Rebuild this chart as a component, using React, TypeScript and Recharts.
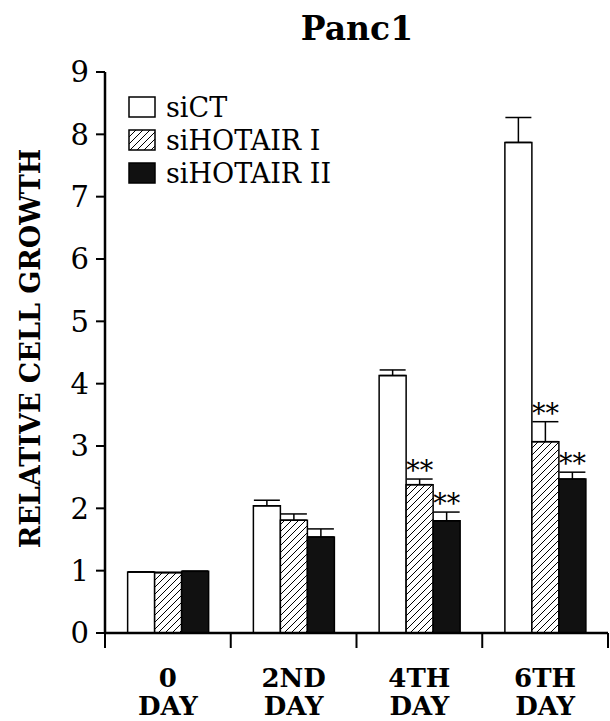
import React from 'react';
import { BarChart, Bar, XAxis, YAxis, ErrorBar, LabelList } from 'recharts';

const titleText = 'Panc1';
const yLabelText = 'RELATIVE CELL GROWTH';
const catLine1 = ['0', '2ND', '4TH', '6TH'];
const catLine2 = ['DAY', 'DAY', 'DAY', 'DAY'];
const siCT = [0.98, 2.04, 4.13, 7.87];
const siCTErr = [0, 0.09, 0.09, 0.4];
const siH1 = [0.97, 1.81, 2.38, 3.07];
const siH1Err = [0, 0.1, 0.09, 0.32];
const siH2 = [0.99, 1.54, 1.8, 2.47];
const siH2Err = [0, 0.13, 0.14, 0.11];
const siH1Stars = ['', '', '**', '**'];
const siH2Stars = ['', '', '**', '**'];
const yTicks = [0, 1, 2, 3, 4, 5, 6, 7, 8, 9];
const boundaryTicks = [0, 1, 2, 3, 4];
const seriesNames = ['siCT', 'siHOTAIR I', 'siHOTAIR II'];
const seriesFills = ['#ffffff', 'url(#hatch)', '#111111'];
const legendFills = ['#ffffff', 'url(#hatchL)', '#111111'];

const data = catLine1.map((c, i) => ({
  cat: c + ' ' + catLine2[i],
  idx: i,
  siCT: siCT[i],
  siCTE: [0, siCTErr[i]],
  siH1: siH1[i],
  siH1E: [0, siH1Err[i]],
  siH2: siH2[i],
  siH2E: [0, siH2Err[i]],
}));

const SERIF = 'DejaVu Serif';

const makeStars = (stars: string[], errs: number[]) => (props: any) => {
  const vb = props.viewBox || {};
  const x = props.x ?? vb.x;
  const y = props.y ?? vb.y;
  const width = props.width ?? vb.width;
  const height = props.height ?? vb.height;
  const value = Number(props.value);
  const index = props.index;
  if (index == null || !stars[index]) return null;
  const ppu = height / value;
  const top = y - errs[index] * ppu;
  return (
    <text
      x={x + width / 2}
      y={top + 1}
      textAnchor="middle"
      fontFamily={SERIF}
      fontSize={27}
      fill="#000"
    >
      {stars[index]}
    </text>
  );
};

const CatTick = (props: any) => {
  const { x, y, index } = props;
  return (
    <text
      x={x}
      textAnchor="middle"
      fontFamily={SERIF}
      fontWeight="bold"
      fontSize={26}
      fill="#000"
    >
      <tspan x={x} y={y + 53}>{catLine1[index]}</tspan>
      <tspan x={x} y={y + 81}>{catLine2[index]}</tspan>
    </text>
  );
};

const EmptyTick = () => <g />;

const YLabel = (props: any) => {
  const vb = props.viewBox || {};
  const cx = vb.x + 30;
  const cy = vb.y + vb.height / 2 - 4;
  return (
    <text
      x={cx}
      y={cy}
      transform={`rotate(-90 ${cx} ${cy})`}
      textAnchor="middle"
      dominantBaseline="central"
      fontFamily={SERIF}
      fontWeight="bold"
      fontSize={27}
      fill="#000"
    >
      {yLabelText}
    </text>
  );
};

export default function App() {
  return (
    <div style={{ position: 'absolute', left: 0, top: 0, width: 610, height: 721, background: '#fff' }}>
      <BarChart
        width={610}
        height={721}
        data={data}
        margin={{ top: 72, right: 2, left: 0, bottom: 0 }}
        barCategoryGap="18%"
        barGap={0}
      >
        <defs>
          <pattern id="hatch" patternUnits="userSpaceOnUse" width="7" height="7">
            <rect width="7" height="7" fill="#fff" />
            <path d="M0,7 L7,0 M-1,1 L1,-1 M6,8 L8,6" stroke="#000" strokeWidth="1" />
          </pattern>
        </defs>
        <XAxis
          xAxisId="b"
          dataKey="cat"
          height={87}
          axisLine={false}
          tickLine={false}
          tickSize={0}
          tickMargin={0}
          interval={0}
          tick={<CatTick />}
        />
        <XAxis
          xAxisId="a"
          type="number"
          dataKey="idx"
          domain={[0, 4]}
          ticks={boundaryTicks}
          interval={0}
          allowDataOverflow
          height={1}
          tick={<EmptyTick />}
          tickSize={15}
          tickLine={{ stroke: '#000', strokeWidth: 2 }}
          axisLine={{ stroke: '#000', strokeWidth: 2.5 }}
        />
        <YAxis
          width={105}
          domain={[0, 9]}
          ticks={yTicks}
          interval={0}
          tickSize={9}
          tickMargin={7}
          axisLine={{ stroke: '#000', strokeWidth: 2.5 }}
          tickLine={{ stroke: '#000', strokeWidth: 2 }}
          tick={{ fontSize: 29, fill: '#000', fontFamily: SERIF }}
          label={<YLabel />}
        />
        <Bar xAxisId="b" dataKey="siCT" fill={seriesFills[0]} stroke="#000" strokeWidth={1.5} isAnimationActive={false}>
          <ErrorBar dataKey="siCTE" width={13} stroke="#000" strokeWidth={1.5} isAnimationActive={false} />
        </Bar>
        <Bar xAxisId="b" dataKey="siH1" fill={seriesFills[1]} stroke="#000" strokeWidth={1.5} isAnimationActive={false}>
          <ErrorBar dataKey="siH1E" width={13} stroke="#000" strokeWidth={1.5} isAnimationActive={false} />
          <LabelList dataKey="siH1" content={makeStars(siH1Stars, siH1Err)} />
        </Bar>
        <Bar xAxisId="b" dataKey="siH2" fill={seriesFills[2]} stroke="#000" strokeWidth={1.5} isAnimationActive={false}>
          <ErrorBar dataKey="siH2E" width={13} stroke="#000" strokeWidth={1.5} isAnimationActive={false} />
          <LabelList dataKey="siH2" content={makeStars(siH2Stars, siH2Err)} />
        </Bar>
      </BarChart>
      <svg width={610} height={200} style={{ position: 'absolute', left: 0, top: 0, pointerEvents: 'none' }}>
        <defs>
          <pattern id="hatchL" patternUnits="userSpaceOnUse" width="7" height="7">
            <rect width="7" height="7" fill="#fff" />
            <path d="M0,7 L7,0 M-1,1 L1,-1 M6,8 L8,6" stroke="#000" strokeWidth="1" />
          </pattern>
        </defs>
        <text x={357} y={40} textAnchor="middle" fontFamily={SERIF} fontWeight="bold" fontSize={33} fill="#000">
          {titleText}
        </text>
        {seriesNames.map((name, i) => (
          <g key={name}>
            <rect x={129} y={97 + i * 33} width={26} height={20} fill={legendFills[i]} stroke="#000" strokeWidth={1.5} />
            <text x={166} y={117 + i * 33} fontFamily={SERIF} fontSize={27} fill="#000">
              {name}
            </text>
          </g>
        ))}
      </svg>
    </div>
  );
}
